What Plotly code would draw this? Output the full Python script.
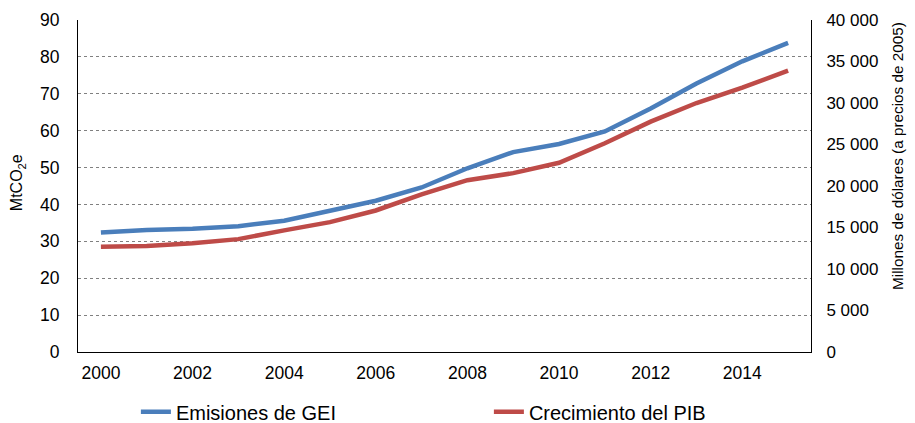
import plotly.graph_objects as go

years = list(range(2000, 2016))
emisiones_gei = [32.4, 33.1, 33.4, 34.1, 35.6, 38.3, 41.0, 44.6, 49.8, 54.2, 56.4, 59.8, 66.0, 72.8, 78.8, 83.8]
pib = [12670, 12780, 13100, 13600, 14650, 15650, 17050, 19000, 20700, 21550, 22800, 25150, 27750, 30000, 31850, 33900]
x_ticks = [2000, 2002, 2004, 2006, 2008, 2010, 2012, 2014]

blue = "#4A7EBB"
red = "#BE4B48"

fig = go.Figure()
fig.add_trace(go.Scatter(x=years, y=emisiones_gei, name="Emisiones de GEI", mode="lines",
                         line=dict(color=blue, width=4.5)))
fig.add_trace(go.Scatter(x=years, y=pib, name="Crecimiento del PIB", mode="lines",
                         line=dict(color=red, width=4.5), yaxis="y2"))

# page body has an 8px margin, so the figure is a bit smaller than the window
fig.update_layout(
    width=907, height=415,
    margin=dict(l=70, r=104, t=12, b=71, autoexpand=False),
    paper_bgcolor="white", plot_bgcolor="white",
    font=dict(family="Liberation Sans, Arial, sans-serif", size=17.5, color="black"),
    separators=", ",
    showlegend=True,
    legend=dict(orientation="h", x=0.141, y=0.027, xref="container", yref="container",
                xanchor="left", yanchor="middle",
                font=dict(size=20), entrywidth=308, entrywidthmode="pixels"),
    xaxis=dict(range=[1999.5, 2015.5], tickvals=x_ticks, tickformat="d",
               showline=True, linecolor="black", linewidth=1, showgrid=False,
               ticks="", zeroline=False, ticklabelstandoff=5),
    yaxis=dict(range=[0, 90], dtick=10, showline=True, linecolor="black", linewidth=1,
               showgrid=True, gridcolor="#808080", griddash="dot", gridwidth=1,
               zeroline=False, ticks="", ticklabelstandoff=14),
    yaxis2=dict(range=[0, 40000], dtick=5000, overlaying="y", side="right",
                tickformat=",d", showline=True, linecolor="black", linewidth=1,
                showgrid=False, zeroline=False, ticks="", ticklabelstandoff=11,
                tickfont=dict(size=17)),
)

# axis titles as annotations so they sit where the original has them
fig.add_annotation(text="MtCO<sub>2</sub>e", xref="paper", yref="paper", x=-0.083, y=0.509,
                   textangle=-90, showarrow=False, xanchor="center", yanchor="middle",
                   font=dict(size=16))
fig.add_annotation(text="Millones de dólares (a precios de 2005)", xref="paper", yref="paper",
                   x=1.118, y=0.592, textangle=-90, showarrow=False,
                   xanchor="center", yanchor="middle", font=dict(size=15.3))

fig.write_html("out.html")
